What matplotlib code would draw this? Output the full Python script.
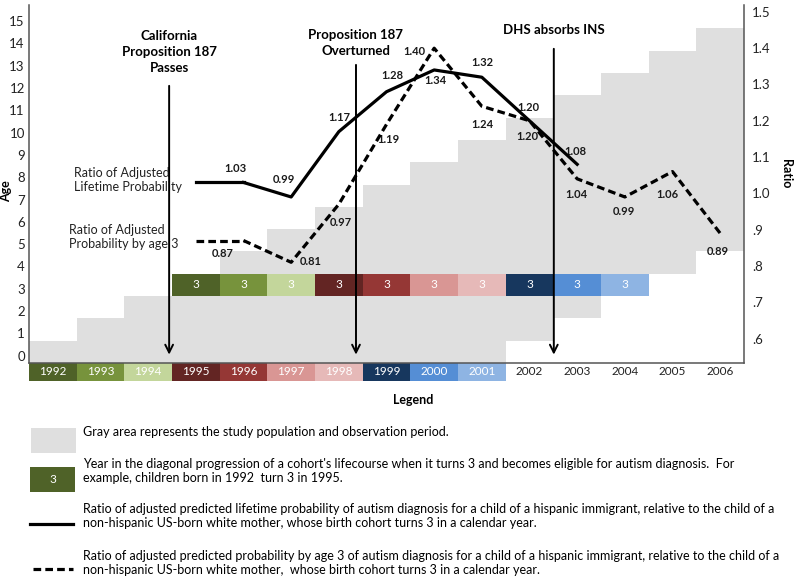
import matplotlib
matplotlib.use("Agg")
import matplotlib.pyplot as plt
from matplotlib.patches import Rectangle
from matplotlib.lines import Line2D

plt.rcParams['font.family'] = ['Lato', 'DejaVu Sans']

# calendar years (columns)
years = [1992, 1993, 1994, 1995, 1996, 1997, 1998, 1999, 2000, 2001, 2002, 2003, 2004, 2005, 2006]
# youngest / oldest age observed in each calendar year (gray area)
gray_low = [0, 0, 0, 0, 0, 0, 0, 0, 0, 0, 1, 2, 3, 4, 5]
gray_high = [0, 1, 2, 3, 4, 5, 6, 7, 8, 9, 10, 11, 12, 13, 14]

# birth cohorts and the year each one turns 3
cohorts = [1992, 1993, 1994, 1995, 1996, 1997, 1998, 1999, 2000, 2001]
turn3_years = [1995, 1996, 1997, 1998, 1999, 2000, 2001, 2002, 2003, 2004]
cohort_colors = ['#4f6228', '#77933c', '#c3d69b', '#632523', '#953735',
                 '#d99694', '#e6b9b8', '#17375e', '#558ed5', '#8eb4e3']

# ratio series (by year cohort turns 3)
lifetime_years = [1996, 1997, 1998, 1999, 2000, 2001, 2002, 2003]
lifetime_ratio = [1.03, 0.99, 1.17, 1.28, 1.34, 1.32, 1.20, 1.08]
age3_years = [1996, 1997, 1998, 1999, 2000, 2001, 2002, 2003, 2004, 2005, 2006]
age3_ratio = [0.87, 0.81, 0.97, 1.19, 1.40, 1.24, 1.20, 1.04, 0.99, 1.06, 0.89]

# label offsets (pixels) for the value labels
lifetime_off = [(-8, 14), (-7, 17), (0, 14), (6, 16), (1, -11), (1, 15), (-1, 13), (-2, 13)]
age3_off = [(-21, -13), (20, 1), (2, -18), (2, -15), (-20, -3), (1, -18),
            (-2, -16), (-1, -16), (-1, -15), (-5, -23), (-2, -18)]

# events: label, x position, arrow top, text y
events = [("California\nProposition 187\nPasses", 1994.44, 12.55, 13.95),
          ("Proposition 187\nOverturned", 1998.36, 13.49, 14.35),
          ("DHS absorbs INS", 2002.51, 14.21, 14.93)]

gray = '#dfdfdf'
W, H = 800, 583


def px(x, y):
    return x / W, 1 - y / H


fig = plt.figure(figsize=(8, 5.83), dpi=100)
ax = fig.add_axes([29 / W, 1 - 363 / H, 715 / W, 358 / H])

# gray study area
ax.bar(years, [h - l + 1 for l, h in zip(gray_low, gray_high)], bottom=gray_low,
       width=1, color=gray, linewidth=0, zorder=1)

# age-3 cells
ax.bar(turn3_years, 1, bottom=3, width=1, color=cohort_colors, linewidth=0, zorder=2)
for yr in turn3_years:
    ax.text(yr, 3.5, '3', color='white', ha='center', va='center', fontsize=8.5, zorder=3)

# year band below axis
year_colors = cohort_colors + ['none'] * (len(years) - len(cohorts))
ax.bar(years, 0.81, bottom=-0.81, width=1, color=year_colors, linewidth=0,
       clip_on=False, zorder=2)
for yr, c in zip(years, year_colors):
    ax.text(yr, -0.40, str(yr), color='white' if c != 'none' else '#222222',
            ha='center', va='center', fontsize=8.5, clip_on=False)

ax.set_xlim(1991.5, 2006.5)
ax.set_ylim(0, 16.05)
ax.set_xticks([])
ax.set_yticks([k + 0.33 for k in range(16)])
ax.set_yticklabels([str(k) for k in range(16)])
ax.tick_params(axis='y', length=0, pad=3, labelsize=9.5, labelcolor='#222222')
ax.set_ylabel('Age', fontweight='bold', fontsize=9)
ax.yaxis.set_label_coords(-0.024, 0.48)
for s in ['top', 'right']:
    ax.spines[s].set_visible(False)
for s in ['left', 'bottom']:
    ax.spines[s].set_color('#555555')
    ax.spines[s].set_linewidth(1.1)

# events
for label, x, top, ty in events:
    ax.annotate('', xy=(x, 0.25), xytext=(x, top),
                arrowprops=dict(arrowstyle='->', lw=1.4, color='black', mutation_scale=14),
                zorder=5)
    ax.text(x, ty, label, ha='center', va='center', fontsize=9.5, fontweight='bold',
            linespacing=1.4)

# ratio axis
ax2 = ax.twinx()
ax2.set_ylim(0.5325, 1.519)
ratio_ticks = [0.6, 0.7, 0.8, 0.9, 1.0, 1.1, 1.2, 1.3, 1.4, 1.5]
ax2.set_yticks(ratio_ticks)
ax2.set_yticklabels(['.6', '.7', '.8', '.9', '1.0', '1.1', '1.2', '1.3', '1.4', '1.5'])
ax2.tick_params(axis='y', length=0, pad=6, labelsize=9.5, labelcolor='#222222')
ax2.set_ylabel('Ratio', fontweight='bold', fontsize=9, rotation=270, va='center')
ax2.yaxis.set_label_coords(1.059, 0.53)
ax2.spines['top'].set_visible(False)
ax2.spines['left'].set_visible(False)
ax2.spines['right'].set_color('#555555')
ax2.spines['right'].set_linewidth(1.1)
ax2.spines['bottom'].set_visible(False)

ax2.plot(lifetime_years, lifetime_ratio, color='black', lw=2.3, zorder=4)
ax2.plot(age3_years, age3_ratio, color='black', lw=2.3, ls=(0, (2.4, 1.3)), zorder=4)
# leader lines from the series labels
ax2.plot([1995, lifetime_years[0]], [lifetime_ratio[0]] * 2, color='black', lw=2.3)
ax2.plot([1995, age3_years[0]], [age3_ratio[0]] * 2, color='black', lw=2.3, ls=(0, (2.4, 1.3)))

for x, v, (dx, dy) in zip(lifetime_years, lifetime_ratio, lifetime_off):
    ax2.annotate(f'{v:.2f}', xy=(x, v), xytext=(dx, dy), textcoords='offset pixels',
                 ha='center', va='center', fontsize=8, fontweight='bold', color='#1a1a1a')
for x, v, (dx, dy) in zip(age3_years, age3_ratio, age3_off):
    ax2.annotate(f'{v:.2f}', xy=(x, v), xytext=(dx, dy), textcoords='offset pixels',
                 ha='center', va='center', fontsize=8, fontweight='bold', color='#1a1a1a')

ax.text(1992.44, 8.2, 'Ratio of Adjusted\nLifetime Probability', ha='left', va='center',
        fontsize=9, linespacing=1.15, color='#222222')
ax.text(1992.34, 5.65, 'Ratio of Adjusted\nProbability by age 3', ha='left', va='center',
        fontsize=9, linespacing=1.15, color='#222222')

# legend area
lsize = 9.0

fig.text(*px(413, 400), 'Legend', ha='center', va='center', fontsize=9, fontweight='bold')

x0, y0 = px(31, 453)
fig.add_artist(Rectangle((x0, y0), 45 / W, 25 / H, transform=fig.transFigure,
                         color=gray, linewidth=0))
fig.text(*px(83, 432), 'Gray area represents the study population and observation period.',
         ha='left', va='center', fontsize=lsize)

x0, y0 = px(30, 492)
fig.add_artist(Rectangle((x0, y0), 45 / W, 25 / H, transform=fig.transFigure,
                         color=cohort_colors[0], linewidth=0))
fig.text(*px(52.5, 479.5), '3', color='white', ha='center', va='center', fontsize=8.5)
fig.text(*px(83, 471), "Year in the diagonal progression of a cohort's lifecourse when it turns 3 "
         "and becomes eligible for autism diagnosis.  For\nexample, children born in 1992  turn 3 in 1995.",
         ha='left', va='center', fontsize=lsize, linespacing=1.15)

xa, ya = px(30, 524)
xb, _ = px(73, 524)
fig.add_artist(Line2D([xa, xb], [ya, ya], transform=fig.transFigure, color='black', lw=2.3))
fig.text(*px(83, 516), "Ratio of adjusted predicted lifetime probability of autism diagnosis for a child "
         "of a hispanic immigrant, relative to the child of a\nnon-hispanic US-born white mother, "
         "whose birth cohort turns 3 in a calendar year.",
         ha='left', va='center', fontsize=lsize, linespacing=1.15)

xa, ya = px(33, 569)
xb, _ = px(73, 569)
fig.add_artist(Line2D([xa, xb], [ya, ya], transform=fig.transFigure, color='black', lw=2.3,
                      ls=(0, (2.4, 1.3))))
fig.text(*px(83, 563), "Ratio of adjusted predicted probability by age 3 of autism diagnosis for a child "
         "of a hispanic immigrant, relative to the child of a\nnon-hispanic US-born white mother,  "
         "whose birth cohort turns 3 in a calendar year.",
         ha='left', va='center', fontsize=lsize, linespacing=1.15)

fig.savefig('out.png', dpi=100)
